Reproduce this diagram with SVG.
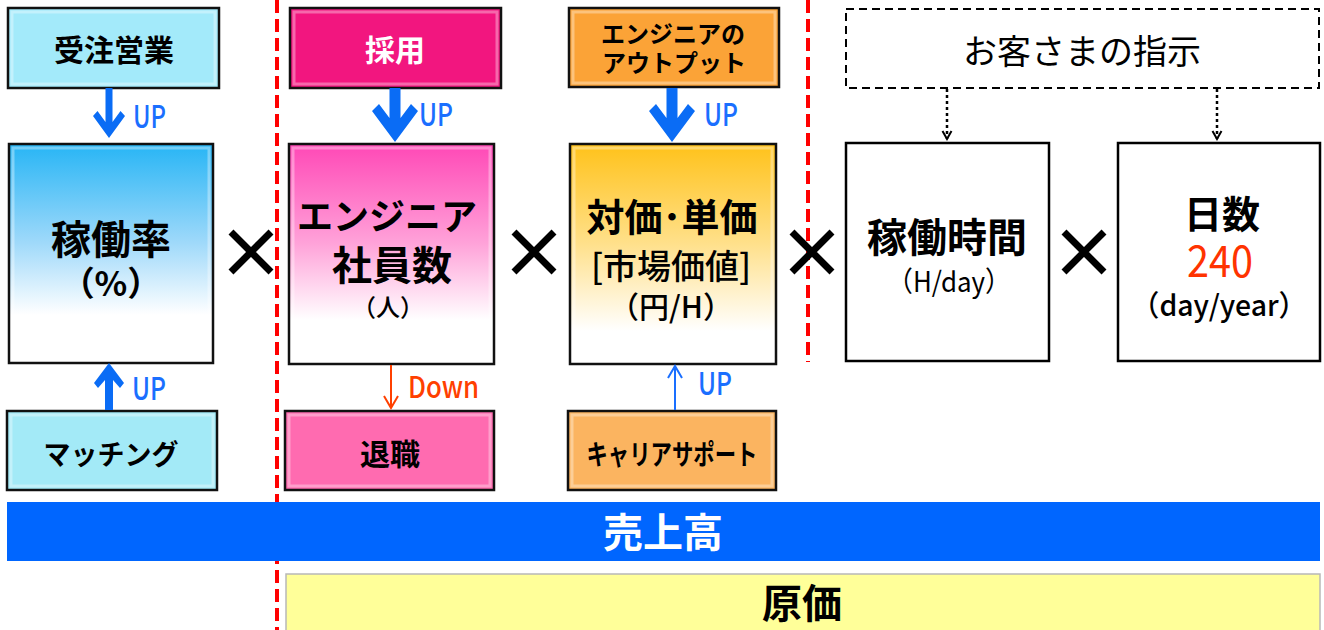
<svg xmlns="http://www.w3.org/2000/svg" width="1324" height="630" viewBox="0 0 1324 630">
<defs>
<linearGradient id="gBlue" x1="0" y1="0" x2="0" y2="1">
<stop offset="0" stop-color="#27b5f5"/><stop offset="0.45" stop-color="#9fd9fa"/><stop offset="0.78" stop-color="#ffffff"/><stop offset="1" stop-color="#ffffff"/>
</linearGradient>
<linearGradient id="gPink" x1="0" y1="0" x2="0" y2="1">
<stop offset="0" stop-color="#ff48b6"/><stop offset="0.45" stop-color="#ffa2d9"/><stop offset="0.8" stop-color="#ffffff"/><stop offset="1" stop-color="#ffffff"/>
</linearGradient>
<linearGradient id="gGold" x1="0" y1="0" x2="0" y2="1">
<stop offset="0" stop-color="#ffc21a"/><stop offset="0.45" stop-color="#ffe08a"/><stop offset="0.85" stop-color="#ffffff"/><stop offset="1" stop-color="#ffffff"/>
</linearGradient>
<marker id="headRed" viewBox="0 0 16 16" refX="14" refY="8" markerWidth="16" markerHeight="16" markerUnits="userSpaceOnUse" orient="auto">
<path d="M2,1 L14,8 L2,15" fill="none" stroke="#ff4000" stroke-width="2"/>
</marker>
<marker id="headBlue" viewBox="0 0 16 16" refX="14" refY="8" markerWidth="16" markerHeight="16" markerUnits="userSpaceOnUse" orient="auto">
<path d="M2,1 L14,8 L2,15" fill="none" stroke="#1a6fff" stroke-width="2"/>
</marker>
<marker id="headBlack" viewBox="0 0 12 12" refX="10" refY="6" markerWidth="12" markerHeight="12" markerUnits="userSpaceOnUse" orient="auto">
<path d="M2,1.5 L10,6 L2,10.5" fill="none" stroke="#000" stroke-width="2"/>
</marker>
</defs>
<style>
.box{stroke:#111;stroke-width:2.5}
.bevel{fill:none;stroke:#ffffff;stroke-opacity:0.35;stroke-width:3}
.plain{fill:#fff;stroke:#000;stroke-width:2.5}
.t{font-family:"Noto Sans CJK JP","Noto Sans",sans-serif;text-anchor:middle;fill:#000}
.b{font-weight:700}
.m{font-weight:500}
.up{font-family:"Noto Sans CJK JP","Noto Sans",sans-serif;font-size:31px;font-weight:500;fill:#1a6fff}
.x{stroke:#000;stroke-width:7}
.red{stroke:#ff0000;stroke-width:4;stroke-dasharray:13,6;fill:none}
</style>

<g id="dividers">
<line class="red" x1="277" y1="0" x2="277" y2="630"/>
<line class="red" x1="808" y1="0" x2="808" y2="362"/>
</g>

<g id="uriage">
<rect x="7" y="502" width="1313" height="59" fill="#0066ff"/>
<text class="t b" x="663" y="547" font-size="40" style="fill:#fff">売上高</text>
</g>

<g id="genka">
<rect x="286" y="574" width="1034" height="60" fill="#ffff99" stroke="#b8b8b8" stroke-width="1.5"/>
<text class="t b" x="802" y="618" font-size="40">原価</text>
</g>

<g id="juchu">
<rect class="box" x="8" y="8" width="211" height="80" fill="#a3eafa"/>
<rect class="bevel" x="12" y="12" width="203" height="72"/>
<text class="t b" x="114" y="61" font-size="30">受注営業</text>
</g>

<g id="saiyo">
<rect class="box" x="290" y="8" width="211" height="80" fill="#f2167f"/>
<rect class="bevel" x="294" y="12" width="203" height="72"/>
<text class="t b" x="395" y="61" font-size="30" style="fill:#fff">採用</text>
</g>

<g id="output">
<rect class="box" x="569" y="8" width="210" height="79" fill="#fba337"/>
<rect class="bevel" x="573" y="12" width="202" height="71"/>
<text class="t b" x="673" y="43" font-size="24">エンジニアの</text>
<text class="t b" x="674" y="72" font-size="24">アウトプット</text>
</g>

<g id="shiji">
<rect x="846" y="9" width="473" height="79" fill="#fff" stroke="#000" stroke-width="2" stroke-dasharray="8,5"/>
<text x="1082" y="64" font-size="34" text-anchor="middle" font-family="'Liberation Serif','Noto Sans CJK JP',serif">お客さまの指示</text>
</g>

<g id="kadoritsu">
<rect class="box" x="9" y="144" width="204" height="219" fill="url(#gBlue)"/>
<rect class="bevel" x="13" y="148" width="196" height="211"/>
<text class="t b" x="111" y="254" font-size="40">稼働率</text>
<text class="t b" x="111" y="296" font-size="34">（%）</text>
</g>

<g id="shainsu">
<rect class="box" x="289" y="144" width="205" height="220" fill="url(#gPink)"/>
<rect class="bevel" x="293" y="148" width="197" height="212"/>
<text class="t b" x="387" y="230" font-size="36">エンジニア</text>
<text class="t b" x="392" y="280" font-size="40">社員数</text>
<text class="t m" x="388" y="316" font-size="24">（人）</text>
</g>

<g id="taika">
<rect class="box" x="570" y="144" width="206" height="220" fill="url(#gGold)"/>
<rect class="bevel" x="574" y="148" width="198" height="212"/>
<text class="t b" x="672" y="231" font-size="38">対価･単価</text>
<text class="t m" x="671" y="279" font-size="34">[市場価値]</text>
<text class="t m" x="671" y="318" font-size="30">（円/H）</text>
</g>

<g id="kadojikan">
<rect class="plain" x="846" y="143" width="203" height="218"/>
<text class="t b" x="947" y="252" font-size="40">稼働時間</text>
<text class="t" x="949" y="292" font-size="28" textLength="124" lengthAdjust="spacingAndGlyphs">（H/day）</text>
</g>

<g id="nissu">
<rect class="plain" x="1118" y="143" width="202" height="218"/>
<text class="t b" x="1222" y="228" font-size="38">日数</text>
<text class="t" x="1220" y="277" font-size="44" textLength="66" lengthAdjust="spacingAndGlyphs" style="fill:#ff3300">240</text>
<text class="t m" x="1219" y="316" font-size="29" textLength="176" lengthAdjust="spacingAndGlyphs">（day/year）</text>
</g>

<g id="matching">
<rect class="box" x="7" y="411" width="210" height="79" fill="#a3eaf7"/>
<rect class="bevel" x="11" y="415" width="202" height="71"/>
<text class="t b" x="111" y="465" font-size="28" textLength="135" lengthAdjust="spacingAndGlyphs">マッチング</text>
</g>

<g id="taishoku">
<rect class="box" x="285" y="411" width="209" height="79" fill="#ff6bb0"/>
<rect class="bevel" x="289" y="415" width="201" height="71"/>
<text class="t b" x="390" y="465" font-size="30">退職</text>
</g>

<g id="career">
<rect class="box" x="568" y="411" width="208" height="79" fill="#fbb460"/>
<rect class="bevel" x="572" y="415" width="200" height="71"/>
<text class="t b" x="672" y="465" font-size="28" textLength="171" lengthAdjust="spacingAndGlyphs">キャリアサポート</text>
</g>

<g id="multiply">
<path class="x" d="M231,232 L271,272 M271,232 L231,272"/>
<path class="x" d="M514,232 L554,272 M554,232 L514,272"/>
<path class="x" d="M792,232 L832,272 M832,232 L792,272"/>
<path class="x" d="M1064,232 L1104,272 M1104,232 L1064,272"/>
</g>

<g id="connectors">
<polygon fill="#0a6cf5" points="105.5,88 112.5,88 112.5,122 120.5,111 125,116 109,138 93,116 97.5,111 105.5,122"/>
<text class="up" x="133" y="128" textLength="33" lengthAdjust="spacingAndGlyphs">UP</text>
<polygon fill="#0a6cf5" points="389.5,88 400.5,88 400.5,118 411,104 418,111 395,142 372,111 379,104 389.5,118"/>
<text class="up" x="419" y="126" textLength="34" lengthAdjust="spacingAndGlyphs">UP</text>
<polygon fill="#0a6cf5" points="666.5,88 677.5,88 677.5,118 688,104 695,111 672,142 649,111 656,104 666.5,118"/>
<text class="up" x="704" y="126" textLength="34" lengthAdjust="spacingAndGlyphs">UP</text>
<polygon fill="#0a6cf5" points="105,410 113,410 113,380 120,388 124,383 109,363 94,383 98,388 105,380"/>
<text class="up" x="132" y="400" textLength="34" lengthAdjust="spacingAndGlyphs">UP</text>
<line x1="391" y1="365" x2="391" y2="408" stroke="#ff4000" stroke-width="2" marker-end="url(#headRed)"/>
<text x="408" y="398" font-family="'Noto Sans CJK JP','Noto Sans',sans-serif" font-size="30" font-weight="500" fill="#ff4000" textLength="71" lengthAdjust="spacingAndGlyphs">Down</text>
<line x1="675" y1="410" x2="675" y2="366" stroke="#1a6fff" stroke-width="2" marker-end="url(#headBlue)"/>
<text class="up" x="698" y="395" textLength="34" lengthAdjust="spacingAndGlyphs">UP</text>
<line x1="947" y1="89" x2="947" y2="139" stroke="#000" stroke-width="2.5" stroke-dasharray="3,3" marker-end="url(#headBlack)"/>
<line x1="1217" y1="89" x2="1217" y2="139" stroke="#000" stroke-width="2.5" stroke-dasharray="3,3" marker-end="url(#headBlack)"/>
</g>
</svg>
